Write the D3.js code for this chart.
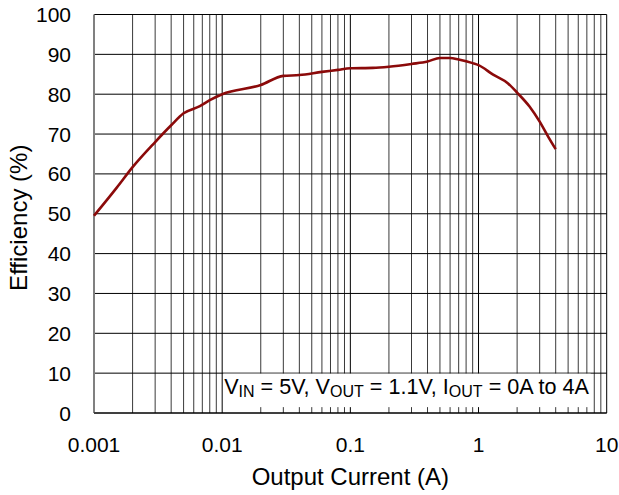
<!DOCTYPE html>
<html>
<head>
<meta charset="utf-8">
<script src="https://cdn.jsdelivr.net/npm/d3@7"></script>
<style>
  html, body { margin: 0; padding: 0; background: #fff; }
  svg { display: block; font-family: "Liberation Sans", Arial, sans-serif; }
</style>
</head>
<body>
<svg id="chart" width="619" height="495"></svg>
<script>
// Efficiency vs. output current (log scale)
const currentA = [0.001, 0.0015, 0.002, 0.003, 0.004, 0.005, 0.0067, 0.008, 0.01, 0.02,
                  0.03, 0.04, 0.06, 0.08, 0.1, 0.15, 0.2, 0.3, 0.4, 0.5,
                  0.6, 0.7, 0.9, 1.0, 1.3, 1.7, 2.0, 2.5, 3.0, 3.5, 4.0];
const efficiencyPct = [49.5, 56.5, 61.7, 68.0, 72.2, 75.2, 77.0, 78.5, 80.0, 82.3,
                       84.6, 84.8, 85.6, 86.1, 86.5, 86.6, 86.9, 87.6, 88.2, 89.1,
                       89.1, 88.7, 87.8, 87.3, 84.9, 82.7, 80.4, 76.9, 73.1, 69.3, 66.2];
const xTickValues = [0.001, 0.01, 0.1, 1, 10];
const xTickLabels = ["0.001", "0.01", "0.1", "1", "10"];
const yTickValues = [0, 10, 20, 30, 40, 50, 60, 70, 80, 90, 100];

const svg = d3.select("#chart");
const m = { left: 94, right: 12.3, top: 14.5, bottom: 82 };
const W = 619, H = 495;

const x = d3.scaleLog().domain([0.001, 10]).range([m.left, W - m.right]);
const y = d3.scaleLinear().domain([0, 100]).range([H - m.bottom, m.top]);

// minor vertical gridlines (2..9 of each decade)
const minor = [];
for (let e = -3; e < 1; e++) {
  for (let k = 2; k <= 9; k++) minor.push(k * Math.pow(10, e));
}
svg.append("g").selectAll("line").data(minor).join("line")
  .attr("x1", d => x(d)).attr("x2", d => x(d))
  .attr("y1", y(100)).attr("y2", y(0))
  .attr("stroke", "#3a3a3a").attr("stroke-width", 1);

// decade gridlines
svg.append("g").selectAll("line").data([0.01, 0.1, 1, 10]).join("line")
  .attr("x1", d => x(d)).attr("x2", d => x(d))
  .attr("y1", y(100)).attr("y2", y(0))
  .attr("stroke", "#000").attr("stroke-width", 1);

// horizontal gridlines
svg.append("g").selectAll("line").data(yTickValues).join("line")
  .attr("x1", x(0.001)).attr("x2", x(10))
  .attr("y1", d => y(d)).attr("y2", d => y(d))
  .attr("stroke", "#000").attr("stroke-width", 1);

// left axis line
svg.append("line")
  .attr("x1", x(0.001)).attr("x2", x(0.001))
  .attr("y1", y(100)).attr("y2", y(0))
  .attr("stroke", "#808080").attr("stroke-width", 2);

// condition label box
const box = svg.append("g");
box.append("rect")
  .attr("x", x(0.01) + 1).attr("y", y(10) + 0.5)
  .attr("width", x(7.5) - x(0.01) - 1).attr("height", y(1.6) - y(10))
  .attr("fill", "#fff");
const cond = box.append("text")
  .attr("x", x(0.01) + 2).attr("y", y(10) + 21)
  .attr("font-size", 21.6).attr("fill", "#000");
const parts = [["V", 0], ["IN", 1], [" = 5V, V", 0], ["OUT", 1], [" = 1.1V, I", 0], ["OUT", 1], [" = 0A to 4A", 0]];
let sub = false;
parts.forEach(([t, s]) => {
  const ts = cond.append("tspan").text(t);
  if (s) { ts.attr("font-size", 16).attr("dy", sub ? 0 : 3); sub = true; }
  else { ts.attr("dy", sub ? -3 : 0); sub = false; }
});

// efficiency curve
const line = d3.line().x((d, i) => x(currentA[i])).y(d => y(d)).curve(d3.curveMonotoneX);
svg.append("path")
  .datum(efficiencyPct)
  .attr("d", line)
  .attr("fill", "none")
  .attr("stroke", "#8b0a0a")
  .attr("stroke-width", 2.6)
  .attr("stroke-linejoin", "round");

// bottom axis line
svg.append("line")
  .attr("x1", x(0.001)).attr("x2", x(10))
  .attr("y1", y(0)).attr("y2", y(0))
  .attr("stroke", "#000").attr("stroke-width", 1.2);

// tick labels
svg.append("g").selectAll("text").data(yTickValues).join("text")
  .attr("x", 71).attr("y", d => y(d) + 7.5)
  .attr("text-anchor", "end").attr("font-size", 21).attr("fill", "#000")
  .text(d => d);
svg.append("g").selectAll("text").data(xTickValues).join("text")
  .attr("x", d => x(d)).attr("y", 452)
  .attr("text-anchor", "middle").attr("font-size", 21).attr("fill", "#000")
  .text((d, i) => xTickLabels[i]);

// axis titles
svg.append("text")
  .attr("x", (x(0.001) + x(10)) / 2).attr("y", 485)
  .attr("text-anchor", "middle").attr("font-size", 24).attr("fill", "#000")
  .text("Output Current (A)");
svg.append("text")
  .attr("transform", `translate(27,${(y(0) + y(100)) / 2 + 4}) rotate(-90)`)
  .attr("text-anchor", "middle").attr("font-size", 24).attr("fill", "#000")
  .text("Efficiency (%)");
</script>
</body>
</html>
